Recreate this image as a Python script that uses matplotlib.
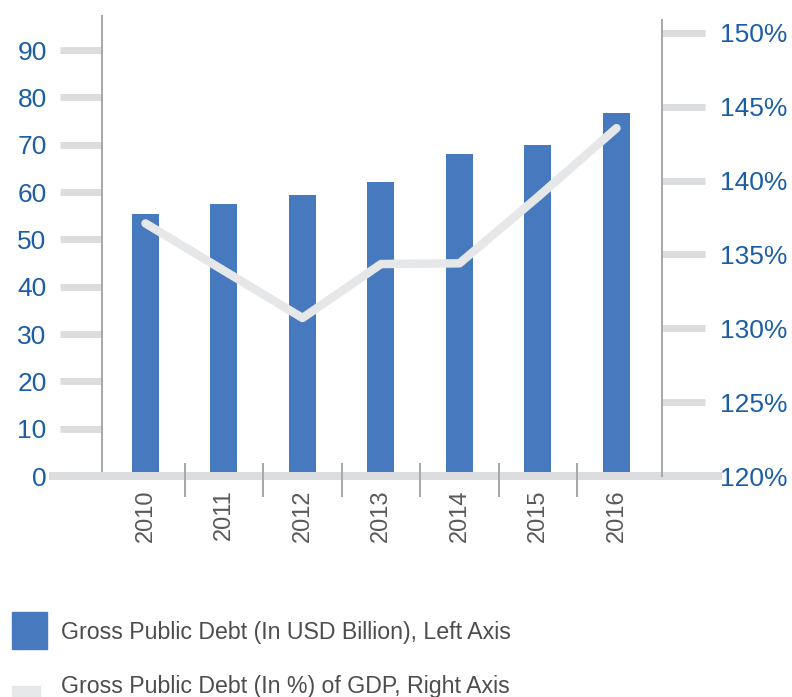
import matplotlib
matplotlib.use("Agg")
import matplotlib.pyplot as plt
from matplotlib.patches import Rectangle
from matplotlib.lines import Line2D
import matplotlib.transforms as mtransforms

# ---- data ----
years = ["2010", "2011", "2012", "2013", "2014", "2015", "2016"]
debt_usd_bn = [55.4, 57.5, 59.4, 62.1, 68.0, 69.9, 76.7]
debt_pct_gdp = [137.1, 133.9, 130.7, 134.35, 134.4, 138.9, 143.55]
left_ticks = [0, 10, 20, 30, 40, 50, 60, 70, 80, 90]
right_ticks = [120, 125, 130, 135, 140, 145, 150]
legend_labels = ["Gross Public Debt (In USD Billion), Left Axis",
                 "Gross Public Debt (In %) of GDP, Right Axis"]

# ---- style ----
BAR = "#4679BD"
LINE = "#E6E7E8"
TICKG = "#DCDDDF"
SPINE = "#A7A9AC"
BLUE = "#1B5EA6"
GREYTXT = "#58595B"
plt.rcParams['font.family'] = ['Liberation Sans', 'DejaVu Sans']

W, H = 792, 697
fig = plt.figure(figsize=(W / 100, H / 100), dpi=100)
px = 72 / 100  # points per pixel

left_px, right_px, top_px, bottom_px = 101.7, 662, 16, 476
ax = fig.add_axes([left_px / W, 1 - bottom_px / H,
                   (right_px - left_px) / W, (bottom_px - top_px) / H])
ax2 = ax.twinx()

x = list(range(len(years)))
ax.bar(x, debt_usd_bn, width=27 / 78.5, color=BAR, zorder=2)
ax.set_xlim(-0.558, 6.58)
ax.set_ylim(0, (bottom_px - top_px) / 4.733)
ax.set_yticks(left_ticks)
ax.set_yticklabels([str(v) for v in left_ticks])
ax.tick_params(axis='y', direction='out', length=42 * px, width=7 * px,
               color=TICKG, labelcolor=BLUE, labelsize=19, pad=13 * px)
ax.set_xticks(x)
ax.set_xticklabels(years, rotation=90, va='top', ha='center')
ax.tick_params(axis='x', length=0, labelcolor=GREYTXT, labelsize=17, pad=13 * px)
for s in ['top', 'right', 'bottom']:
    ax.spines[s].set_visible(False)
ax.spines['left'].set_color(SPINE)
ax.spines['left'].set_linewidth(2 * px)
ax.set_zorder(1)
ax.patch.set_visible(False)

ax2.plot(x, debt_pct_gdp, color=LINE, lw=8.5 * px, solid_capstyle='round',
         solid_joinstyle='round', zorder=3)
ax2.set_ylim(120, 120 + (bottom_px - top_px) / 14.77)
ax2.set_yticks(right_ticks)
ax2.set_yticklabels([f"{v}%" for v in right_ticks])
ax2.tick_params(axis='y', direction='out', length=43 * px, width=7 * px,
                color=TICKG, labelcolor=BLUE, labelsize=19, pad=15 * px)
for s in ['top', 'left', 'bottom']:
    ax2.spines[s].set_visible(False)
ax2.spines['right'].set_color(SPINE)
ax2.spines['right'].set_linewidth(2 * px)
ax2.spines['right'].set_bounds(120, 120 + (bottom_px - 20) / 14.77)
ax2.set_zorder(2)

# baseline (thick grey)
tr = mtransforms.blended_transform_factory(fig.transFigure, ax.transData)
ax.add_line(Line2D([53 / W, 718 / W], [0, 0], transform=tr, color=TICKG,
                   lw=8 * px, clip_on=False, zorder=4))
# separators between years
seps = [i + 0.5 for i in range(len(years) - 1)]
ax.vlines(seps, -21 / 460, 13 / 460, transform=ax.get_xaxis_transform(),
          color=SPINE, lw=2 * px, clip_on=False, zorder=5)

# legend (manual)
fig.add_artist(Rectangle((12 / W, 1 - 649 / H), 35 / W, 37 / H,
                         transform=fig.transFigure, color=BAR))
fig.add_artist(Rectangle((12 / W, 1 - 700 / H), 28 / W, 14 / H,
                         transform=fig.transFigure, color=LINE))
fig.text(61 / W, 1 - 633 / H, legend_labels[0], color="#4D4D4F",
         fontsize=16.7, va='center', ha='left')
fig.text(61 / W, 1 - 687 / H, legend_labels[1], color="#4D4D4F",
         fontsize=16.7, va='center', ha='left')

fig.savefig("out.png", dpi=100)
